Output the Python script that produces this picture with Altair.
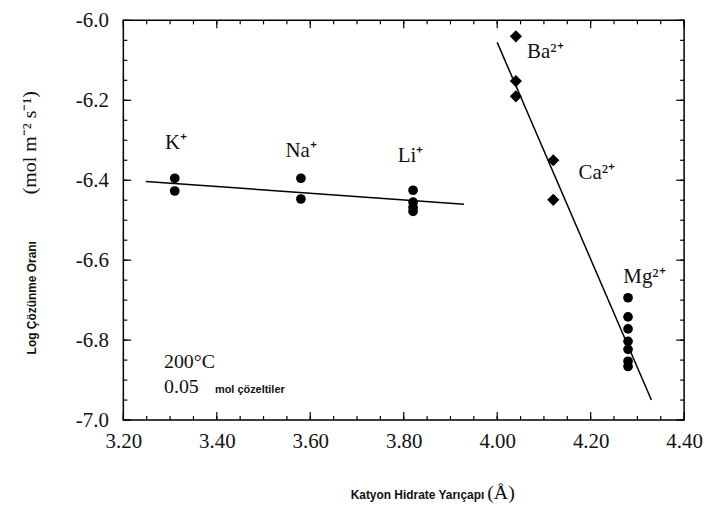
import altair as alt
import pandas as pd

# ---------------- data ----------------
cations = ["K", "Na", "Li", "Ba", "Ca", "Mg"]
cation_x = [3.31, 3.58, 3.82, 4.04, 4.12, 4.28]
K_y = [-6.395, -6.427]
Na_y = [-6.395, -6.447]
Li_y = [-6.425, -6.455, -6.468, -6.478]
Ba_y = [-6.040, -6.152, -6.190]
Ca_y = [-6.350, -6.449]
Mg_y = [-6.694, -6.742, -6.772, -6.803, -6.823, -6.853, -6.866]
shapes = ["circle", "circle", "circle", "diamond", "diamond", "circle"]

# fitted lines (end points)
line_group = ["mono", "mono", "di", "di"]
line_x = [3.248, 3.929, 4.000, 4.330]
line_y = [-6.403, -6.460, -6.055, -6.950]

# cation labels
label_text = ["K⁺", "Na⁺", "Li⁺", "Ba²⁺", "Ca²⁺", "Mg²⁺"]
label_x = [3.289, 3.547, 3.787, 4.064, 4.174, 4.270]
label_y = [-6.322, -6.342, -6.354, -6.094, -6.396, -6.656]

# annotations
note_serif_text = ["200°C", "0.05"]
note_serif_x = [3.287, 3.287]
note_serif_y = [-6.869, -6.933]
note_sans_text = ["mol çözeltiler"]
note_sans_x = [3.396]
note_sans_y = [-6.933]

x_major = [3.2, 3.4, 3.6, 3.8, 4.0, 4.2, 4.4]
y_major = [-7.0, -6.8, -6.6, -6.4, -6.2, -6.0]
x_minor = [round(3.2 + 0.05 * i, 2) for i in range(25)]
y_minor = [round(-7.0 + 0.05 * i, 2) for i in range(21)]

# ---------------- layout ----------------
W, H = 564, 402
SERIF = "Liberation Serif"
SANS = "Liberation Sans"
INK = "#111111"

xscale = alt.Scale(domain=[3.2, 4.4], nice=False, zero=False)
yscale = alt.Scale(domain=[-7.0, -6.0], nice=False, zero=False)
xaxis = alt.Axis(values=x_major, format=".2f", ticks=False, domain=False, grid=False,
                 labelFont=SERIF, labelFontSize=21, labelColor=INK, labelPadding=11,
                 labelFlush=False, labelOverlap=False, title=None)
yaxis = alt.Axis(values=y_major, labelExpr="replace(format(datum.value, '.1f'), '\u2212', '-')",
                 ticks=False, domain=False, grid=False,
                 labelFont=SERIF, labelFontSize=21, labelColor=INK, labelPadding=15,
                 labelFlush=False, labelOverlap=False, title=None)


def X(field):
    return alt.X(field, type="quantitative", scale=xscale, axis=xaxis, title=None)


def Y(field):
    return alt.Y(field, type="quantitative", scale=yscale, axis=yaxis, title=None)


rows = []
for name, xv, ys, shp in zip(cations, cation_x, [K_y, Na_y, Li_y, Ba_y, Ca_y, Mg_y], shapes):
    for yv in ys:
        rows.append({"cation": name, "x": xv, "y": yv, "shape": shp})
pts_df = pd.DataFrame(rows)

circles = alt.Chart(pts_df[pts_df["shape"] == "circle"]).mark_point(
    filled=True, opacity=1, color="black", size=95, shape="circle").encode(x=X("x"), y=Y("y"))
diamonds = alt.Chart(pts_df[pts_df["shape"] == "diamond"]).mark_point(
    filled=True, opacity=1, color="black", size=150, shape="diamond").encode(x=X("x"), y=Y("y"))

lines = alt.Chart(pd.DataFrame({"g": line_group, "x": line_x, "y": line_y})).mark_line(
    color="black", strokeWidth=1.5).encode(x=X("x"), y=Y("y"), detail="g:N")

labels = alt.Chart(pd.DataFrame({"t": label_text, "x": label_x, "y": label_y})).mark_text(
    font=SERIF, fontSize=21, align="left", baseline="alphabetic", color=INK).encode(
    x=X("x"), y=Y("y"), text="t:N")

notes_serif = alt.Chart(pd.DataFrame({"t": note_serif_text, "x": note_serif_x, "y": note_serif_y})).mark_text(
    font=SERIF, fontSize=20, align="left", baseline="alphabetic", color=INK).encode(
    x=X("x"), y=Y("y"), text="t:N")

notes_sans = alt.Chart(pd.DataFrame({"t": note_sans_text, "x": note_sans_x, "y": note_sans_y})).mark_text(
    font=SANS, fontSize=11, fontWeight="bold", align="left", baseline="alphabetic", color=INK).encode(
    x=X("x"), y=Y("y"), text="t:N")


def tick_layer(vals, side, length):
    df = pd.DataFrame({"v": vals})
    m = alt.Chart(df).mark_rule(color="black", strokeWidth=1.2)
    if side == "bottom":
        return m.encode(x=X("v"), y=alt.value(H), y2=alt.value(H - length))
    if side == "top":
        return m.encode(x=X("v"), y=alt.value(0), y2=alt.value(length))
    if side == "left":
        return m.encode(y=Y("v"), x=alt.value(0), x2=alt.value(length))
    return m.encode(y=Y("v"), x=alt.value(W), x2=alt.value(W - length))


tick_layers = []
for side in ["bottom", "top"]:
    tick_layers.append(tick_layer(x_minor, side, 4))
    tick_layers.append(tick_layer(x_major, side, 8))
for side in ["left", "right"]:
    tick_layers.append(tick_layer(y_minor, side, 4))
    tick_layers.append(tick_layer(y_major, side, 8))

title_df = pd.DataFrame({"t": ["x"]})
ytitle_sans = alt.Chart(title_df).mark_text(
    font=SANS, fontSize=12, fontWeight="bold", angle=270, align="center", baseline="middle",
    color=INK, x=-92, y=279, text="Log Çözünme Oranı")
ytitle_serif = alt.Chart(title_df).mark_text(
    font=SERIF, fontSize=20, angle=270, align="center", baseline="middle",
    color=INK, x=-94, y=123, text="(mol m⁻² s⁻¹)")
xtitle_sans = alt.Chart(title_df).mark_text(
    font=SANS, fontSize=12, fontWeight="bold", align="right", baseline="alphabetic",
    color=INK, x=363, y=481, text="Katyon Hidrate Yarıçapı")
xtitle_serif = alt.Chart(title_df).mark_text(
    font=SERIF, fontSize=20, align="left", baseline="alphabetic",
    color=INK, x=366, y=481, text="(Å)")

chart = alt.layer(
    circles, diamonds, lines, labels, notes_serif, notes_sans, *tick_layers,
    ytitle_sans, ytitle_serif, xtitle_sans, xtitle_serif,
).properties(
    width=W, height=H,
    autosize=alt.AutoSizeParams(type="none"),
    padding={"left": 116, "top": 11, "right": 21, "bottom": 82},
    background="white",
).configure_view(stroke="black", strokeWidth=1.5)

chart.save("out.html", embed_options={"renderer": "svg", "actions": False})
